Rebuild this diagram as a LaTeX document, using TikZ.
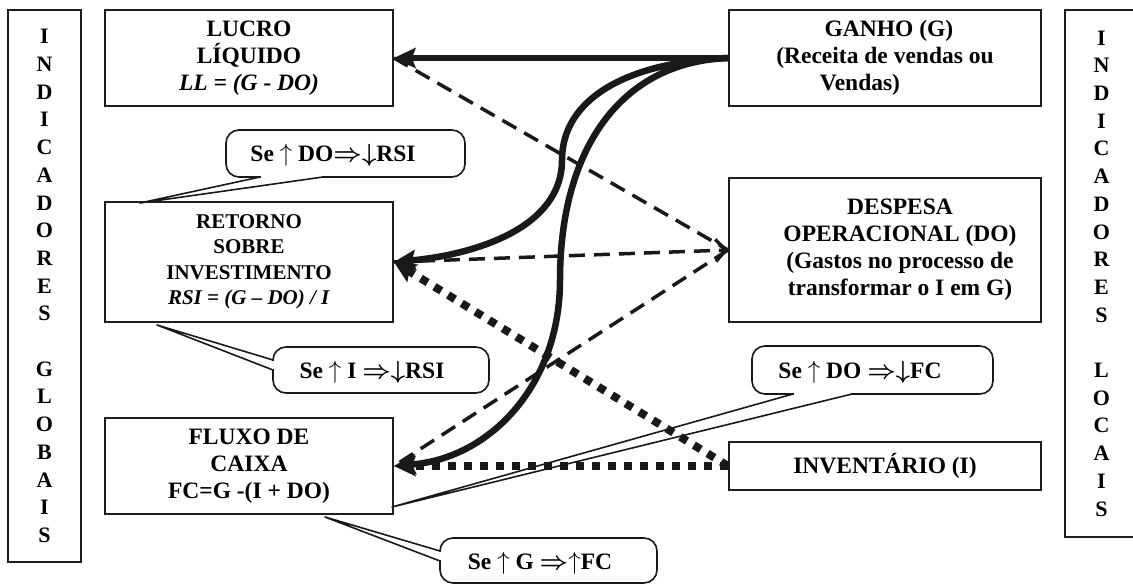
\documentclass[tikz,border=0pt]{standalone}
\usepackage{fontspec}
\setmainfont{Liberation Serif}
\usetikzlibrary{arrows.meta}
\begin{document}
\begin{tikzpicture}[x=1pt,y=-1pt,
  frame/.style={draw=black!88, line width=2pt, fill=white, inner sep=0pt},
  boxtext/.style={align=center, inner sep=0pt, font=\bfseries\fontsize{23.5}{27}\selectfont},
  smalltext/.style={align=center, inner sep=0pt, font=\bfseries\fontsize{21}{25.5}\selectfont},
  vertext/.style={align=center, inner sep=0pt, font=\bfseries\fontsize{22}{27.7}\selectfont},
  bigtip/.tip={Stealth[length=22pt,width=21pt,inset=4pt,line width=0pt]},
  solidarrow/.style={line width=6.5pt, black!90, -bigtip},
  dashline/.style={line width=3.5pt, black!90, dash pattern=on 16pt off 9pt},
  dotline/.style={line width=8pt, black!90, dash pattern=on 8pt off 8pt},
  callbox/.style={draw=black!90, line width=1.6pt, rounded corners=13pt, fill=white},
  callline/.style={draw=black!90, line width=1.6pt, line join=round},
  calltext/.style={inner sep=0pt, font=\bfseries\fontsize{23.5}{27}\selectfont}
]
\useasboundingbox (0,0) rectangle (1133,584);
\clip (0,0) rectangle (1133,584);

% side columns
\node[frame, vertext, minimum width=73, minimum height=552] (glob) at (44.5,286)
  {I\\N\\D\\I\\C\\A\\D\\O\\R\\E\\S\\[27.7pt]G\\L\\O\\B\\A\\I\\S};
\node[frame, vertext, minimum width=73, minimum height=527] (loc) at (1101.5,273.5)
  {I\\N\\D\\I\\C\\A\\D\\O\\R\\E\\S\\[27.7pt]L\\O\\C\\A\\I\\S};

% global indicators
\node[frame, boxtext, minimum width=288, minimum height=96] (ll) at (249,58)
  {LUCRO\\L\'IQUIDO\\\textit{LL = (G - DO)}};
\node[frame, smalltext, minimum width=288, minimum height=120] (rsi) at (249,262)
  {RETORNO\\SOBRE\\INVESTIMENTO\\\textit{RSI = (G -- DO) / I}};
\node[frame, boxtext, minimum width=288, minimum height=96] (fc) at (249,466)
  {FLUXO DE\\CAIXA\\FC=G -(I + DO)};

% local indicators
\node[frame, boxtext, minimum width=312, minimum height=96] (g) at (885,58)
  {\hspace*{8pt}GANHO (G)\\(Receita de vendas ou\\Vendas)\hspace*{50pt}};
\node[frame, minimum width=312, minimum height=144] (do) at (885,250) {};
\node[boxtext] (dotext) at ([xshift=15pt]do.center)
  {DESPESA\\OPERACIONAL (DO)\\(Gastos no processo de\\transformar o I em G)};
\node[frame, boxtext, minimum width=312, minimum height=48] (inv) at (885,466)
  {INVENT\'ARIO (I)};

% dashed links with the operating expense
\draw[dashline] (ll.east) -- (do.west);
\draw[dashline, -{Straight Barb[length=10pt,width=22pt]}] (rsi.east) -- (do.west);
\draw[dashline] (do.west) -- (fc.east);

% dotted links from the inventory
\draw[dotline, -bigtip] (inv.west) -- (fc.east);
\draw[dotline, -bigtip] (inv.west) -- (rsi.east);

% solid links from the gain
\draw[solidarrow] (g.west) -- (ll.east);
\draw[solidarrow] (g.west) .. controls (625,62) and (562,100) .. (562,160)
  .. controls (562,230) and (470,255) .. (rsi.east);
\draw[solidarrow] (g.west) .. controls (620,62) and (560,150) .. (560,280)
  .. controls (560,385) and (490,458) .. (fc.east);

% callout: DO vs RSI
\draw[callbox] (226,130) rectangle (465,177);
\fill[white] (261,175) rectangle (322,179);
\coordinate (p1) at (140,203);
\draw[callline] (260,177) -- (p1) -- (323,177);
\node[calltext] (c1) at (333,155) {Se $\uparrow$ DO{\boldmath$\Rightarrow\downarrow$}RSI};

% callout: I vs RSI
\draw[callbox] (273,347) rectangle (489,393);
\fill[white] (271,361) rectangle (275,369);
\coordinate (p2) at (157,325);
\draw[callline] (273,360) -- (p2) -- (273,370);
\node[calltext] (c2) at (372,372) {Se $\uparrow$ I {\boldmath$\Rightarrow\downarrow$}RSI};

% callout: DO vs FC
\draw[callbox] (752,346) rectangle (993,394);
\fill[white] (794,392) rectangle (851,396);
\coordinate (p3) at (392,507);
\draw[callline] (793,394) -- (p3) -- (852,394);
\node[calltext] (c3) at (860,372) {Se $\uparrow$ DO {\boldmath$\Rightarrow\downarrow$}FC};

% callout: G vs FC
\draw[callbox] (440,538) rectangle (657,583);
\fill[white] (438,552) rectangle (442,560);
\coordinate (p4) at (325,517);
\draw[callline] (440,551) -- (p4) -- (440,561);
\node[calltext] (c4) at (540,563) {Se $\uparrow$ G {\boldmath$\Rightarrow$}$\uparrow$FC};
\end{tikzpicture}
\end{document}
